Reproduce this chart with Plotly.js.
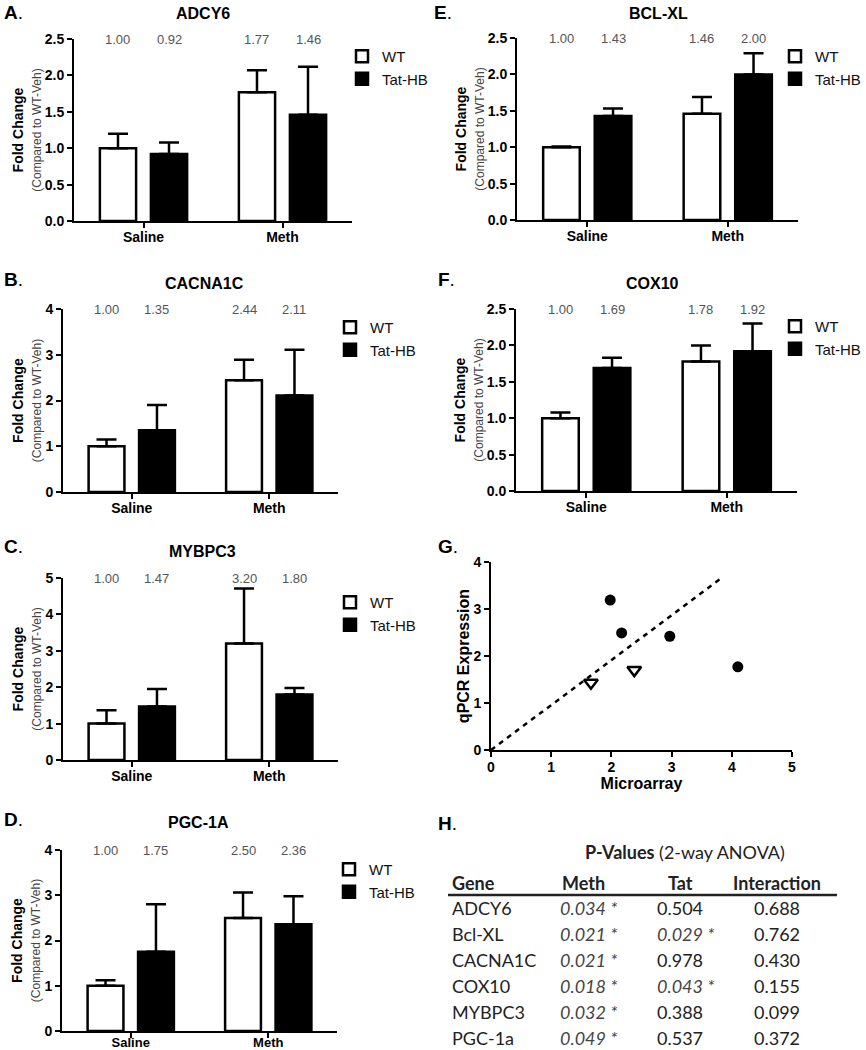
<!DOCTYPE html>
<html><head><meta charset="utf-8">
<script src="https://cdn.plot.ly/plotly-3.0.1.min.js"></script>
<style>html,body{margin:0;padding:0;background:#fff}</style>
</head><body><div id="chart" style="width:866px;height:1050px"></div>
<script>
// ---------------- DATA ----------------
const categories = ['Saline', 'Meth'];
const groups = ['WT', 'Tat-HB'];

const adcy6WT = [1.00, 1.77],    adcy6WTErr = [0.20, 0.30];
const adcy6Tat = [0.92, 1.46],   adcy6TatErr = [0.16, 0.66];
const cacna1cWT = [1.00, 2.44],  cacna1cWTErr = [0.15, 0.45];
const cacna1cTat = [1.35, 2.11], cacna1cTatErr = [0.55, 1.00];
const mybpc3WT = [1.00, 3.20],   mybpc3WTErr = [0.37, 1.51];
const mybpc3Tat = [1.47, 1.80],  mybpc3TatErr = [0.48, 0.18];
const pgc1aWT = [1.00, 2.50],    pgc1aWTErr = [0.12, 0.56];
const pgc1aTat = [1.75, 2.36],   pgc1aTatErr = [1.05, 0.62];
const bclxlWT = [1.00, 1.46],    bclxlWTErr = [0.01, 0.23];
const bclxlTat = [1.43, 2.00],   bclxlTatErr = [0.10, 0.29];
const cox10WT = [1.00, 1.78],    cox10WTErr = [0.08, 0.22];
const cox10Tat = [1.69, 1.92],   cox10TatErr = [0.14, 0.38];

// Panel G: microarray vs qPCR
const scatterCircleX = [1.98, 2.17, 2.97, 4.10];
const scatterCircleY = [3.19, 2.49, 2.42, 1.77];
const scatterTriX = [1.66, 2.38];
const scatterTriY = [1.43, 1.70];
const fitX = [0, 3.84];
const fitY = [0, 3.67];

// Panel H: P-values (2-way ANOVA)
const tableHeader = ['Gene', 'Meth', 'Tat', 'Interaction'];
const tableGenes = ['ADCY6', 'Bcl-XL', 'CACNA1C', 'COX10', 'MYBPC3', 'PGC-1a'];
const pMeth = ['0.034', '0.021', '0.021', '0.018', '0.032', '0.049'];
const pTat = ['0.504', '0.029', '0.978', '0.043', '0.388', '0.537'];
const pInteraction = ['0.688', '0.762', '0.430', '0.155', '0.099', '0.372'];

// ---------------- LAYOUT HELPERS ----------------
const W = 866, H = 1050;
const FONT = 'Liberation Sans, Arial, sans-serif';
const TFONT = 'Lato, Liberation Sans, sans-serif';
const px = x => x / W;
const py = y => 1 - y / H;
const BARGAP = 0.266, BARGROUPGAP = 0.29;

const panels = [
  {letter: 'A', gene: 'ADCY6',   wt: adcy6WT,   wtE: adcy6WTErr,   tat: adcy6Tat,   tatE: adcy6TatErr,
   xd: [74, 352], yd: [39, 221], ymax: 2.5, dtick: 0.5, fmt: '.1f', title: [203, 13], lp: [2, 12], leg: [342, 40, 'left'], tls: -3, xfs: 14},
  {letter: 'B', gene: 'CACNA1C', wt: cacna1cWT, wtE: cacna1cWTErr, tat: cacna1cTat, tatE: cacna1cTatErr,
   xd: [63, 338], yd: [309, 492], ymax: 4, dtick: 1, fmt: 'd', title: [204, 283], lp: [2, 279], leg: [330, 311, 'left'], tls: -3, xfs: 14},
  {letter: 'C', gene: 'MYBPC3',  wt: mybpc3WT,  wtE: mybpc3WTErr,  tat: mybpc3Tat,  tatE: mybpc3TatErr,
   xd: [63, 338], yd: [578, 760], ymax: 5, dtick: 1, fmt: 'd', title: [202, 551], lp: [2, 546], leg: [330, 586, 'left'], tls: -3, xfs: 14},
  {letter: 'D', gene: 'PGC-1A',  wt: pgc1aWT,   wtE: pgc1aWTErr,   tat: pgc1aTat,   tatE: pgc1aTatErr,
   xd: [62, 337], yd: [850, 1031], ymax: 4, dtick: 1, fmt: 'd', title: [198, 822], lp: [2, 819], leg: [329, 853, 'left'], tls: -7, xfs: 13},
  {letter: 'E', gene: 'BCL-XL',  wt: bclxlWT,   wtE: bclxlWTErr,   tat: bclxlTat,   tatE: bclxlTatErr,
   xd: [517, 798], yd: [38, 220], ymax: 2.5, dtick: 0.5, fmt: '.1f', title: [658, 13], lp: [432, 12], leg: [866, 40, 'right'], tls: -3, xfs: 14},
  {letter: 'F', gene: 'COX10',   wt: cox10WT,   wtE: cox10WTErr,   tat: cox10Tat,   tatE: cox10TatErr,
   xd: [516, 797], yd: [309, 491], ymax: 2.5, dtick: 0.5, fmt: '.1f', title: [652, 283], lp: [436, 279], leg: [866, 310, 'right'], tls: -3, xfs: 14}
];

const traces = [];
const annotations = [];
const shapes = [];
const layout = {
  width: W, height: H,
  margin: {l: 0, r: 0, t: 0, b: 0, autoexpand: false},
  paper_bgcolor: '#fff', plot_bgcolor: 'rgba(0,0,0,0)',
  font: {family: FONT, color: '#000'},
  bargap: BARGAP, bargroupgap: BARGROUPGAP,
  barmode: 'group',
  showlegend: true,
  annotations: annotations, shapes: shapes
};

const tickFontBold = {family: FONT, size: 14, color: '#000', weight: 'bold'};

panels.forEach((p, i) => {
  const n = i + 1;
  const xa = 'x' + (n === 1 ? '' : n), ya = 'y' + (n === 1 ? '' : n);
  const legName = 'legend' + (n === 1 ? '' : n);
  [[p.wt, p.wtE, groups[0], '#fff'], [p.tat, p.tatE, groups[1], '#000']].forEach((s, k) => {
    traces.push({
      type: 'bar', x: categories, y: s[0], name: s[2], xaxis: xa, yaxis: ya,
      legend: legName, legendgroup: s[2] + n, showlegend: true,
      marker: {color: s[3], line: {color: '#000', width: 2.5}},
      error_y: {type: 'data', symmetric: false, array: s[1], arrayminus: s[1].map(() => 0),
                color: '#000', thickness: 2.5, width: 10},
      hoverinfo: 'skip'
    });
    // value labels above each bar at the top of the axis
    s[0].forEach((v, c) => {
      annotations.push({
        xref: xa, yref: ya + ' domain', x: c + (k === 0 ? -1 : 1) * (1 - BARGAP) / 4, y: 1,
        text: v.toFixed(2), showarrow: false, xanchor: 'center', yanchor: 'middle',
        font: {family: FONT, size: 13, color: '#555'}
      });
    });
  });
  layout['xaxis' + (n === 1 ? '' : n)] = {
    domain: [px(p.xd[0]), px(p.xd[1])], anchor: ya, type: 'category',
    categoryorder: 'array', categoryarray: categories, range: [-0.5, 1.5],
    showline: true, linecolor: '#000', linewidth: 2, ticks: 'outside', ticklen: 5, tickwidth: 2,
    tickcolor: '#000', tickfont: Object.assign({}, tickFontBold, {size: p.xfs}), ticklabelstandoff: p.tls, automargin: false,
    showgrid: false, zeroline: false, fixedrange: true
  };
  layout['yaxis' + (n === 1 ? '' : n)] = {
    domain: [py(p.yd[1]), py(p.yd[0])], anchor: xa, range: [0, p.ymax], dtick: p.dtick, tick0: 0,
    tickformat: p.fmt, showline: true, linecolor: '#000', linewidth: 2, ticks: 'outside', ticklen: 5,
    tickwidth: 2, tickcolor: '#000', tickfont: tickFontBold, showgrid: false, zeroline: false,
    title: {text: '<b>Fold Change</b><br><span style="font-size:12px;color:#444">(Compared to WT-Veh)</span>',
            font: {family: FONT, size: 14, color: '#000'}, standoff: 0},
    fixedrange: true
  };
  layout[legName] = {
    x: px(p.leg[0]), y: py(p.leg[1]), xanchor: p.leg[2], yanchor: 'top',
    bgcolor: 'rgba(0,0,0,0)', font: {family: FONT, size: 15, color: '#111'},
    tracegroupgap: 2, traceorder: 'normal'
  };
  annotations.push({xref: 'paper', yref: 'paper', x: px(p.title[0]), y: py(p.title[1]),
    text: '<b>' + p.gene + '</b>', showarrow: false, xanchor: 'center', yanchor: 'middle',
    font: {family: FONT, size: 16, color: '#000'}});
  annotations.push({xref: 'paper', yref: 'paper', x: px(p.lp[0]), y: py(p.lp[1]),
    text: '<b>' + p.letter + '</b>.', showarrow: false, xanchor: 'left', yanchor: 'middle',
    font: {family: FONT, size: 19, color: '#000'}});
});

// ---------------- PANEL G ----------------
traces.push({type: 'scatter', mode: 'lines', x: fitX, y: fitY, xaxis: 'x7', yaxis: 'y7', showlegend: false,
  line: {color: '#000', width: 2.5, dash: '5px,5px'}, hoverinfo: 'skip'});
traces.push({type: 'scatter', mode: 'markers', x: scatterCircleX, y: scatterCircleY, xaxis: 'x7', yaxis: 'y7',
  showlegend: false, marker: {symbol: 'circle', size: 11, color: '#000'}, hoverinfo: 'skip'});
traces.push({type: 'scatter', mode: 'markers', x: scatterTriX, y: scatterTriY, xaxis: 'x7', yaxis: 'y7',
  showlegend: false, marker: {symbol: 'triangle-down-open', size: 12, color: '#000', line: {width: 2.5, color: '#000'}},
  hoverinfo: 'skip'});
layout.xaxis7 = {domain: [px(491), px(792)], anchor: 'y7', range: [0, 5], dtick: 1, tick0: 0,
  showline: true, linecolor: '#000', linewidth: 2, ticks: 'outside', ticklen: 5, tickwidth: 2, tickcolor: '#000',
  tickfont: tickFontBold, ticklabelstandoff: -2, showgrid: false, zeroline: false, fixedrange: true,
  title: {text: '<b>Microarray</b>', font: {family: FONT, size: 16, color: '#000'}, standoff: 4}};
layout.yaxis7 = {domain: [py(750), py(562)], anchor: 'x7', range: [0, 4], dtick: 1, tick0: 0,
  showline: true, linecolor: '#000', linewidth: 2, ticks: 'outside', ticklen: 5, tickwidth: 2, tickcolor: '#000',
  tickfont: tickFontBold, showgrid: false, zeroline: false, fixedrange: true,
  title: {text: '<b>qPCR Expression</b>', font: {family: FONT, size: 16, color: '#000'}, standoff: 0}};
annotations.push({xref: 'paper', yref: 'paper', x: px(436), y: py(546), text: '<b>G</b>.', showarrow: false,
  xanchor: 'left', yanchor: 'middle', font: {family: FONT, size: 19, color: '#000'}});

// ---------------- PANEL H (table) ----------------
annotations.push({xref: 'paper', yref: 'paper', x: px(436), y: py(823), text: '<b>H</b>.', showarrow: false,
  xanchor: 'left', yanchor: 'middle', font: {family: FONT, size: 19, color: '#000'}});
annotations.push({xref: 'paper', yref: 'paper', x: px(685), y: py(852), text: '<b>P-Values</b> (2-way ANOVA)',
  showarrow: false, xanchor: 'center', yanchor: 'middle', font: {family: TFONT, size: 18, color: '#222'}});
const colX = [450, 583, 680, 777];
const colAnchor = ['left', 'center', 'center', 'center'];
tableHeader.forEach((h, c) => {
  annotations.push({xref: 'paper', yref: 'paper', x: px(colX[c]), y: py(883), text: '<b>' + h + '</b>',
    showarrow: false, xanchor: colAnchor[c], yanchor: 'middle', font: {family: TFONT, size: 18, color: '#222'}});
});
shapes.push({type: 'line', xref: 'paper', yref: 'paper', x0: px(448), x1: px(837), y0: py(895), y1: py(895),
  line: {color: '#222', width: 2.5}});
const fmtP = v => (parseFloat(v) < 0.05 ? '<i>' + v + ' *</i>' : v);
tableGenes.forEach((g, r) => {
  const yy = py(908 + r * 25.9);
  const row = [g, fmtP(pMeth[r]), fmtP(pTat[r]), fmtP(pInteraction[r])];
  row.forEach((t, c) => {
    annotations.push({xref: 'paper', yref: 'paper', x: px(colX[c] + (c > 0 && t.indexOf('*') >= 0 ? 5 : 0)), y: yy,
      text: t, showarrow: false, xanchor: colAnchor[c], yanchor: 'middle',
      font: {family: TFONT, size: 18, color: (c > 0 && t.indexOf('*') >= 0) ? '#444' : '#222'}});
  });
});

Plotly.newPlot('chart', traces, layout, {staticPlot: true, displayModeBar: false});
</script></body></html>
